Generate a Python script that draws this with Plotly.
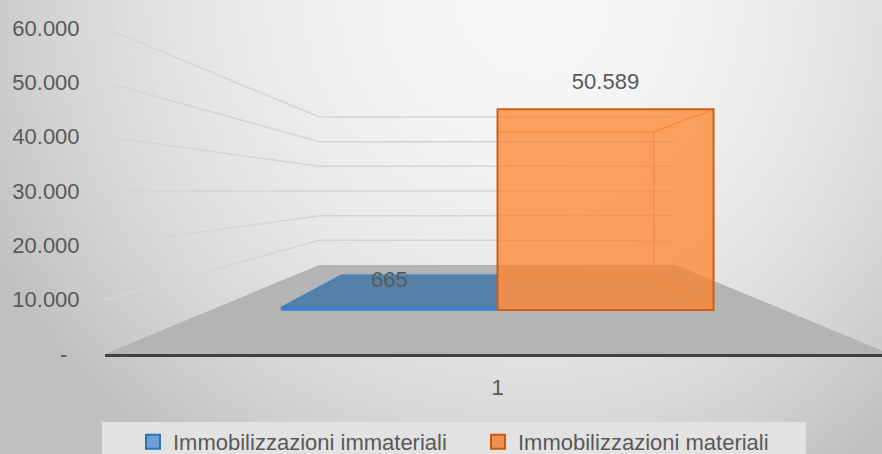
import base64
import struct
import zlib

import numpy as np
import plotly.graph_objects as go

# ---------------- data ----------------
categories = ["1"]
series_names = ["Immobilizzazioni immateriali", "Immobilizzazioni materiali"]
immateriali = [665]
materiali = [50589]
y_ticks = [0, 10000, 20000, 30000, 40000, 50000, 60000]
y_tick_labels = ["-\u00a0\u00a0", "10.000", "20.000", "30.000", "40.000", "50.000", "60.000"]

series_values = [immateriali, materiali]

# ---------------- styling / geometry ----------------
W, H = 882, 454
FONT = "Liberation Sans"
TXT = "#595959"
FILL = ["#5581a9", "rgba(253,128,36,0.72)"]
FRONT = ["#3b7dc8", "rgba(253,128,36,0.72)"]
EDGE = ["#3d7fc9", "#c9601a"]
INNER = ["#3d7fc9", "#f58d42"]
LEG_FILL = ["#6a9fd8", "#f0904e"]
LEG_EDGE = ["#2e75b6", "#c55a11"]

PLOT_LEFT_PX = 105        # left edge of floor / plot area
AXIS_PX = 354             # pixel row of the value 0 on the front plane
PX_PER_UNIT = 326 / 60000 # vertical scale on the front plane
CAT_CENTER_PX = 497.5
PX_PER_CAT = 785
BAR_W = 0.377             # bar width in category units
K_FRONT, K_BACK, K_WALL = 0.27, 0.472, 0.546   # depth (shrink toward vanishing point)
U0, V0 = 0.0, 30000.0     # vanishing point (category units, value units)
LABEL_OFFSET_PX = 26


def proj(u, v, k):
    return u + (U0 - u) * k, v + (V0 - v) * k


def poly(pts):
    xs = [p[0] for p in pts] + [pts[0][0]]
    ys = [p[1] for p in pts] + [pts[0][1]]
    return xs, ys


x_min = (PLOT_LEFT_PX - CAT_CENTER_PX) / PX_PER_CAT
x_max = (W - CAT_CENTER_PX) / PX_PER_CAT
y_max = AXIS_PX / PX_PER_UNIT

fig = go.Figure()

# ---- walls: gridlines ----
gx_l, gy_l, gx_b, gy_b = [], [], [], []
for t in y_ticks[1:]:
    a = proj(-0.5, t, 0.0)
    b = proj(-0.5, t, K_WALL)
    c = proj(0.5, t, K_WALL)
    gx_l += [a[0], b[0], None]
    gy_l += [a[1], b[1], None]
    gx_b += [b[0], c[0], None]
    gy_b += [b[1], c[1], None]
fig.add_trace(go.Scatter(x=gx_l, y=gy_l, mode="lines", line=dict(color="#d5d5d5", width=1.5),
                         showlegend=False, hoverinfo="skip"))
fig.add_trace(go.Scatter(x=gx_b, y=gy_b, mode="lines", line=dict(color="#d5d5d5", width=1.5),
                         showlegend=False, hoverinfo="skip"))

# ---- floor ----
fx, fy = poly([proj(-0.5, 0, 0), proj(0.5, 0, 0), proj(0.5, 0, K_WALL), proj(-0.5, 0, K_WALL)])
fig.add_trace(go.Scatter(x=fx, y=fy, mode="lines", fill="toself", fillcolor="#b4b4b4",
                         line=dict(width=0), showlegend=False, hoverinfo="skip"))

# ---- bars ----
n = len(series_values)
label_x, label_y, label_t = [], [], []
for ci, cat in enumerate(categories):
    for si, vals in enumerate(series_values):
        v = vals[ci]
        u0 = ci + (si - n / 2) * BAR_W
        u1 = u0 + BAR_W
        # back face / hidden edges
        bx, by = poly([proj(u0, 0, K_BACK), proj(u1, 0, K_BACK), proj(u1, v, K_BACK), proj(u0, v, K_BACK)])
        ex, ey = [], []
        for uu in (u0, u1):
            for vv in (0, v):
                p, q = proj(uu, vv, K_FRONT), proj(uu, vv, K_BACK)
                ex += [p[0], q[0], None]
                ey += [p[1], q[1], None]
        # top face
        tx, ty = poly([proj(u0, v, K_FRONT), proj(u1, v, K_FRONT), proj(u1, v, K_BACK), proj(u0, v, K_BACK)])
        # front face
        ffx, ffy = poly([proj(u0, 0, K_FRONT), proj(u1, 0, K_FRONT), proj(u1, v, K_FRONT), proj(u0, v, K_FRONT)])
        if si == 0:
            fig.add_trace(go.Scatter(x=tx, y=ty, mode="lines", fill="toself", fillcolor=FILL[si],
                                     line=dict(color=EDGE[si], width=1.5), showlegend=False,
                                     legendgroup=series_names[si], hoverinfo="skip"))
            fig.add_trace(go.Scatter(x=ffx, y=ffy, mode="lines", fill="toself", fillcolor=FRONT[si],
                                     line=dict(color=EDGE[si], width=1.5), showlegend=False,
                                     legendgroup=series_names[si], hoverinfo="skip"))
        else:
            fig.add_trace(go.Scatter(x=bx, y=by, mode="lines", line=dict(color=INNER[si], width=1),
                                     showlegend=False, hoverinfo="skip"))
            fig.add_trace(go.Scatter(x=ex, y=ey, mode="lines", line=dict(color=INNER[si], width=1),
                                     showlegend=False, hoverinfo="skip"))
            fig.add_trace(go.Scatter(x=ffx, y=ffy, mode="lines", fill="toself", fillcolor=FRONT[si],
                                     line=dict(color=EDGE[si], width=2), showlegend=False,
                                     legendgroup=series_names[si], hoverinfo="skip"))
        lx, ly = proj((u0 + u1) / 2, v, K_FRONT)
        label_x.append(lx)
        label_y.append(ly + LABEL_OFFSET_PX / PX_PER_UNIT)
        label_t.append(f"{v:,}".replace(",", "."))

fig.add_trace(go.Scatter(x=label_x, y=label_y, mode="text", text=label_t, textposition="middle center",
                         textfont=dict(family=FONT, size=22, color=TXT), showlegend=False, hoverinfo="skip"))

# ---- legend proxies ----
for si, name in enumerate(series_names):
    fig.add_trace(go.Scatter(x=[None], y=[None], mode="markers", name=name, legendgroup=name,
                             marker=dict(symbol="square", size=14, color=LEG_FILL[si],
                                         line=dict(color=LEG_EDGE[si], width=2))))


# ---- background gradient (image) ----
def png_uri(arr):
    h, w, _ = arr.shape
    raw = b"".join(b"\x00" + arr[r].tobytes() for r in range(h))

    def chunk(t, d):
        return struct.pack(">I", len(d)) + t + d + struct.pack(">I", zlib.crc32(t + d) & 0xFFFFFFFF)

    png = (b"\x89PNG\r\n\x1a\n" + chunk(b"IHDR", struct.pack(">IIBBBBB", w, h, 8, 2, 0, 0, 0))
           + chunk(b"IDAT", zlib.compress(raw, 9)) + chunk(b"IEND", b""))
    return "data:image/png;base64," + base64.b64encode(png).decode()


gw, gh = 221, 114
xx, yy = np.meshgrid(np.linspace(0, W, gw), np.linspace(0, H, gh))
ax = np.where(xx < 540, 560, 480)
d = np.sqrt(((xx - 540) / ax) ** 2 + ((yy - 0) / 520) ** 2)
shade = 247 - 45 * np.clip(d, 0, 1.1) ** 2
img = np.clip(np.repeat(shade[:, :, None], 3, axis=2), 0, 255).astype(np.uint8)

fig.update_layout(
    template="none",
    width=W, height=H,
    margin=dict(l=0, r=0, t=0, b=0, autoexpand=False),
    paper_bgcolor="#e0e0e0",
    plot_bgcolor="rgba(0,0,0,0)",
    font=dict(family=FONT, size=22, color=TXT),
    images=[dict(source=png_uri(img), xref="paper", yref="paper", x=0, y=1, sizex=1, sizey=1,
                 sizing="stretch", layer="below", xanchor="left", yanchor="top")],
    xaxis=dict(domain=[PLOT_LEFT_PX / W, 1], range=[x_min, x_max], showgrid=False, zeroline=False,
               showline=True, linecolor="#404040", linewidth=3,
               tickvals=list(range(len(categories))), ticktext=categories,
               ticks="outside", ticklen=12, tickcolor="rgba(0,0,0,0)", automargin=False,
               tickfont=dict(family=FONT, size=22, color=TXT)),
    yaxis=dict(domain=[(H - AXIS_PX) / H, 1], range=[0, y_max], showgrid=False, zeroline=False,
               showline=False, tickvals=y_ticks, ticktext=y_tick_labels,
               ticks="outside", ticklen=20, tickcolor="rgba(0,0,0,0)", automargin=False,
               tickfont=dict(family=FONT, size=22, color=TXT)),
    showlegend=True,
    legend=dict(orientation="h", x=133 / W, y=1 - 421 / H, xanchor="left", yanchor="top",
                entrywidth=300, entrywidthmode="pixels",
                bgcolor="rgba(0,0,0,0)", font=dict(family=FONT, size=22, color=TXT)),
    shapes=[dict(type="rect", xref="paper", yref="paper", x0=102 / W, x1=806 / W, y0=-0.01,
                 y1=1 - 422 / H, fillcolor="#e2e2e2", line=dict(width=0), layer="below")],
)

fig.write_html("out.html", config={"displayModeBar": False},
               post_script="document.body.style.margin='0';document.body.style.overflow='hidden';")
